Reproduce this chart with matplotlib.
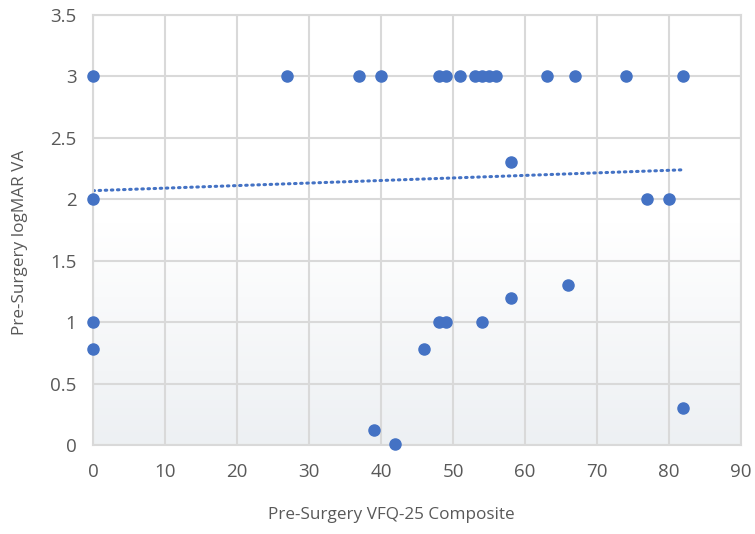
import numpy as np
import matplotlib.pyplot as plt
from matplotlib.colors import LinearSegmentedColormap

# Pre-Surgery VFQ-25 composite vs logMAR VA
vfq = [0, 27, 37, 40, 48, 49, 51, 53, 54, 55, 56, 63, 67, 74, 82,
       0, 0, 0, 58, 77, 80, 82, 66, 58, 54, 48, 49, 46, 39, 42]
logmar = [3, 3, 3, 3, 3, 3, 3, 3, 3, 3, 3, 3, 3, 3, 3,
          2, 1, 0.78, 2.3, 2, 2, 0.3, 1.3, 1.2, 1, 1, 1, 0.78, 0.12, 0.01]

# trendline as drawn in the original
trend_x = [0, 82]
trend_y = [2.07, 2.24]

plt.rcParams['font.family'] = ['Open Sans', 'DejaVu Sans']
txt = '#595959'
grid_c = '#d9d9d9'

fig = plt.figure(figsize=(7.55, 5.34), dpi=100)
ax = fig.add_axes([93 / 755, 1 - 445 / 534, 648 / 755, 430 / 534])

# soft gradient at the bottom of the plot area
grad = np.linspace(1, 0, 256).reshape(-1, 1)
cmap = LinearSegmentedColormap.from_list('bg', ['#edf0f3', '#ffffff'])
ax.imshow(grad, extent=[0, 90, 0, 1.8], aspect='auto', cmap=cmap,
          origin='upper', zorder=0, vmin=0, vmax=1)

ax.scatter(vfq, logmar, s=64, color='#4472c4', zorder=3, clip_on=False)

ax.plot(trend_x, trend_y, color='#4472c4', lw=2.2, linestyle=(0, (0.5, 1.5)),
        dash_capstyle='round', zorder=2)

ax.set_xlim(0, 90)
ax.set_ylim(0, 3.5)
ax.set_xticks(range(0, 91, 10))
ax.set_yticks(np.arange(0, 3.51, 0.5))
ax.set_yticklabels(['0', '0.5', '1', '1.5', '2', '2.5', '3', '3.5'])
ax.grid(True, color=grid_c, lw=1.5, zorder=1)
ax.set_axisbelow(True)
for s in ax.spines.values():
    s.set_color(grid_c)
    s.set_linewidth(1.5)
ax.tick_params(length=0, labelsize=13.5, colors=txt)
ax.tick_params(axis='y', pad=12)
ax.tick_params(axis='x', pad=13)

fig.text(391 / 755, 1 - 515 / 534, 'Pre-Surgery VFQ-25 Composite', fontsize=12.3,
         color=txt, ha='center', va='center')
fig.text(20 / 755, 1 - 242 / 534, 'Pre-Surgery logMAR VA', fontsize=12.3,
         color=txt, ha='center', va='center', rotation=90)

fig.savefig('out.png', dpi=100)
